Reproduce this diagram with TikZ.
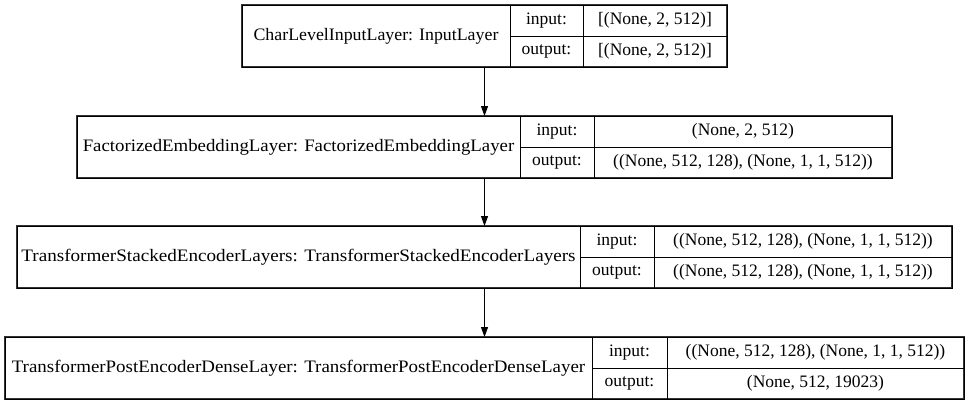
\documentclass[tikz,border=0pt]{standalone}
\usepackage{fontspec}
\setmainfont{Liberation Serif}
\usetikzlibrary{arrows.meta}
\tikzset{
  cellbox/.style={draw=black, line width=1pt, inner sep=0pt, outer sep=0pt, anchor=north west, font=\fontsize{17.5}{19}\selectfont},
  flow/.style={draw=black, line width=1pt, -{Triangle[length=10pt,width=7pt]}}
}
% #1 id, #2 L, #3 D1, #4 D2, #5 R, #6 T, #7 name, #8 in, #9 out
\newcommand\klayer[9]{%
  \pgfmathsetmacro\wa{#3-#2}\pgfmathsetmacro\wb{#4-#3}\pgfmathsetmacro\wc{#5-#4}\pgfmathsetmacro\wt{#5-#2}%
  \node[cellbox, minimum width=\wt pt, minimum height=62pt, line width=1.3pt, draw=black!80] (#1) at (#2,#6) {};
  \node[cellbox, minimum width=\wa pt, minimum height=62pt] (#1n) at (#2,#6) {#7};
  \node[cellbox, minimum width=\wb pt, minimum height=31pt] (#1i) at (#3,#6) {input:};
  \node[cellbox, minimum width=\wc pt, minimum height=31pt] (#1iv) at (#4,#6) {#8};
  \node[cellbox, minimum width=\wb pt, minimum height=31pt] (#1o) at (#3,#6+31) {output:};
  \node[cellbox, minimum width=\wc pt, minimum height=31pt] (#1ov) at (#4,#6+31) {#9};
}
\begin{document}
\begin{tikzpicture}[x=1pt,y=-1pt]
\useasboundingbox (0,0) rectangle (969,405);
\klayer{a}{242}{510}{583}{727}{5}{\scalebox{1.02}[1]{CharLevelInputLayer: InputLayer}}{[(None, 2, 512)]}{[(None, 2, 512)]}
\klayer{b}{77}{520}{594}{892}{116}{\scalebox{1.075}[1]{FactorizedEmbeddingLayer: FactorizedEmbeddingLayer}}{(None, 2, 512)}{((None, 512, 128), (None, 1, 1, 512))}
\klayer{c}{17}{580}{654}{952}{226}{\scalebox{1.093}[1]{TransformerStackedEncoderLayers: TransformerStackedEncoderLayers}}{((None, 512, 128), (None, 1, 1, 512))}{((None, 512, 128), (None, 1, 1, 512))}
\klayer{d}{5}{592}{667}{964}{337}{\scalebox{1.081}[1]{TransformerPostEncoderDenseLayer: TransformerPostEncoderDenseLayer}}{((None, 512, 128), (None, 1, 1, 512))}{(None, 512, 19023)}
\draw[flow] (a.south) -- (b.north);
\draw[flow] (b.south) -- (c.north);
\draw[flow] (c.south) -- (d.north);
\end{tikzpicture}
\end{document}
